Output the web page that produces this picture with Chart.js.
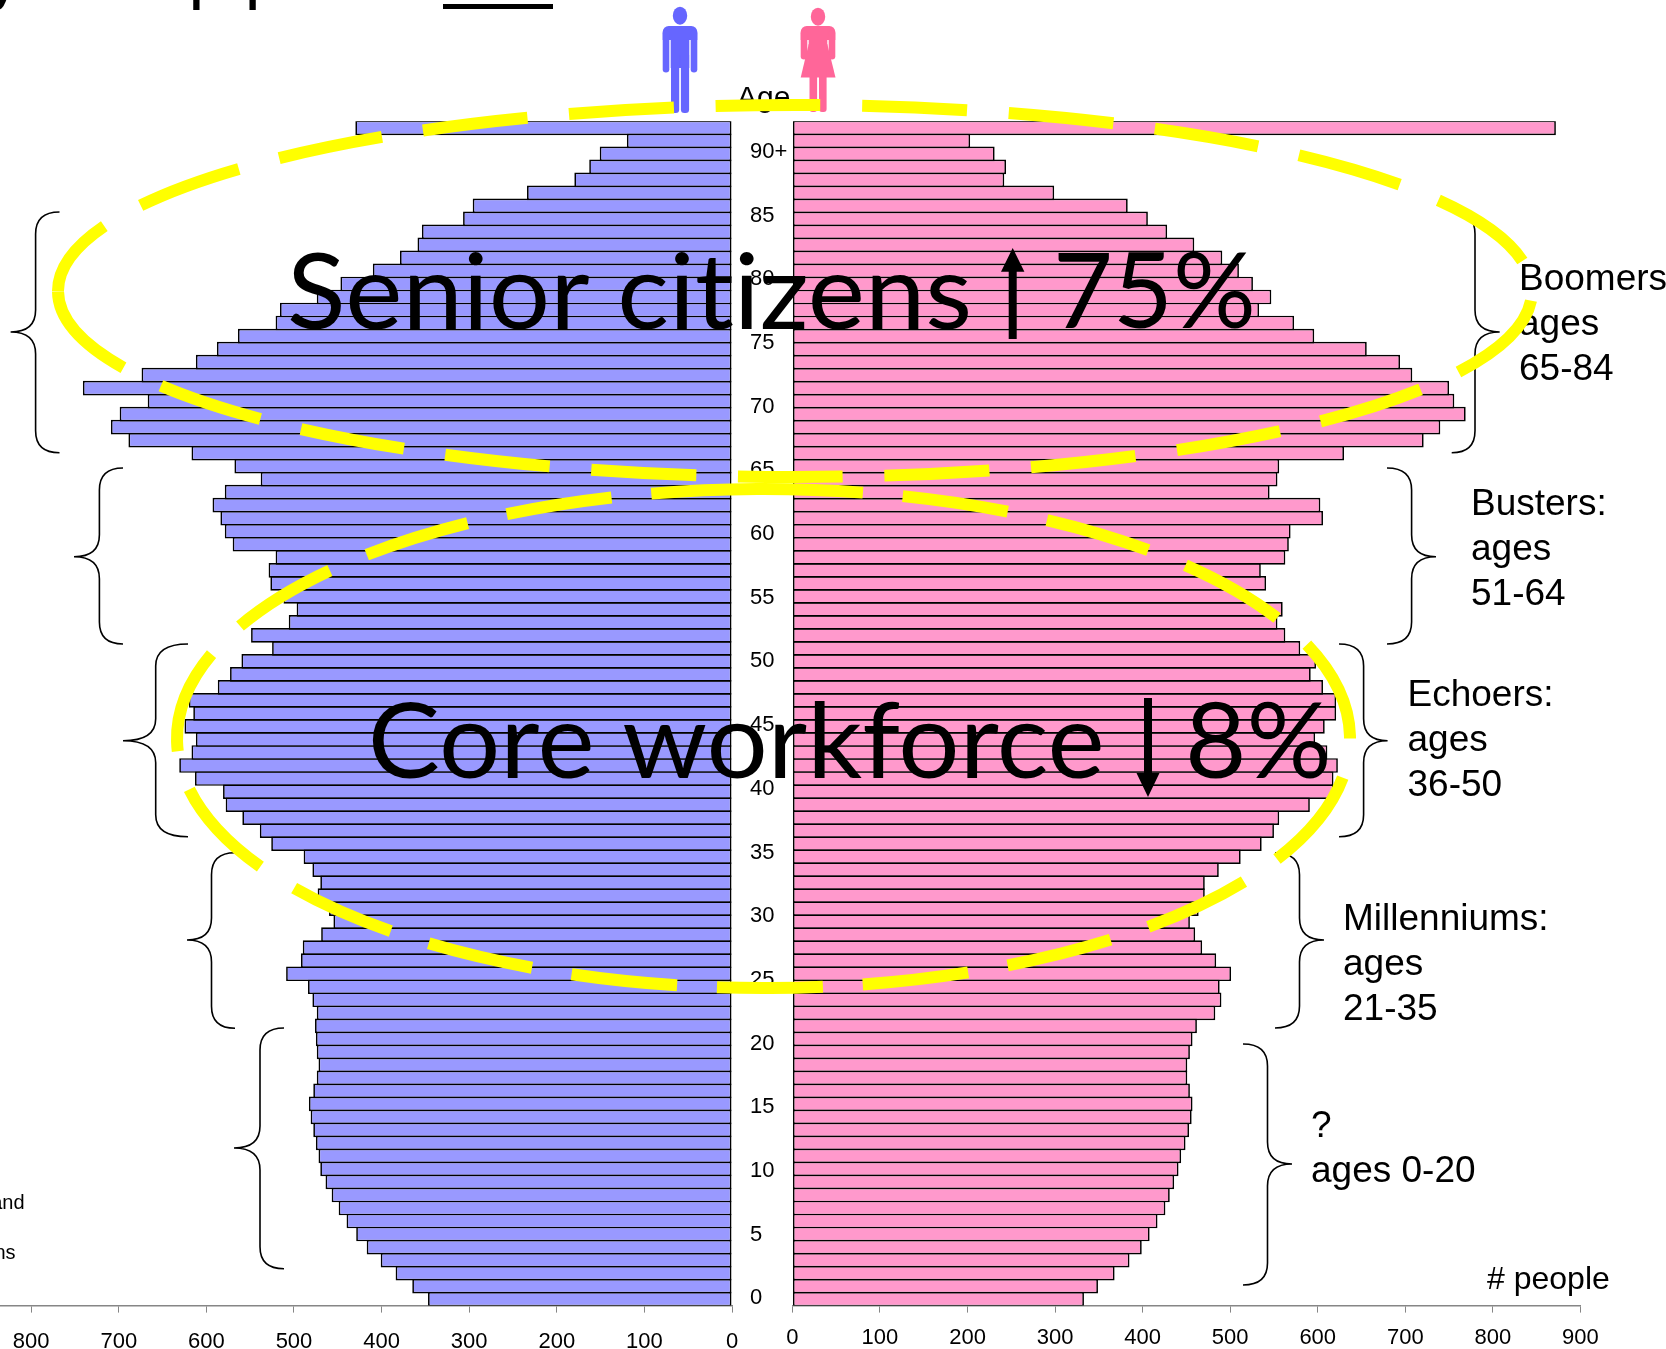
<!DOCTYPE html>
<html><head><meta charset="utf-8">
<style>html,body{margin:0;padding:0;background:#fff;overflow:hidden}canvas{display:block}</style>
<script src="https://cdn.jsdelivr.net/npm/chart.js@4/dist/chart.umd.min.js"></script>
</head><body><canvas id="c" width="1666" height="1349"></canvas>
<script>
// Ages 0 .. 90+ from the bottom bar upward
const ages = [0,1,2,3,4,5,6,7,8,9,10,11,12,13,14,15,16,17,18,19,20,21,22,23,24,25,26,27,28,29,30,31,32,33,34,35,36,37,38,39,40,41,42,43,44,45,46,47,48,49,50,51,52,53,54,55,56,57,58,59,60,61,62,63,64,65,66,67,68,69,70,71,72,73,74,75,76,77,78,79,80,81,82,83,84,85,86,87,88,89,90];
const maleValues = [347,365,384,401,417,429,440,449,457,464,470,472,475,478,481,483,478,474,472,474,475,476,474,479,484,509,492,490,469,455,460,473,470,479,489,526,539,559,578,581,613,631,617,612,625,615,620,587,573,560,525,549,506,497,512,527,529,521,570,579,584,593,579,538,568,617,689,709,699,667,741,674,612,588,564,521,516,474,447,410,379,359,354,307,296,234,180,163,151,120,430];
const femaleValues = [333,349,368,385,399,408,417,426,431,436,441,444,449,453,456,457,454,451,451,454,457,462,483,490,488,501,484,468,460,454,464,471,471,487,512,536,550,556,591,618,618,623,611,597,608,621,621,606,592,598,580,563,554,560,520,541,535,563,567,569,606,603,545,554,556,630,721,740,769,756,750,708,694,656,596,573,533,547,526,510,491,459,428,406,383,299,242,244,231,203,872];
const cohortLabels = [
  {lines:['Boomers:','ages','65-84'], x:1519, y:290},
  {lines:['Busters:','ages','51-64'], x:1471, y:514.5},
  {lines:['Echoers:','ages','36-50'], x:1407.5, y:706},
  {lines:['Millenniums:','ages','21-35'], x:1343, y:930},
  {lines:['?','ages 0-20'], x:1311, y:1137}
];
const braces = [
  [59.5,35.6,10.6,212,332,452.7],[123,99.4,74,468,556.7,644],[188,155.7,123,644,740.7,836.7],
  [235,211.5,187,852.7,940,1028.3],[284,260,234,1028,1148,1268.7],
  [1451.7,1475,1499.7,212,332,452.7],[1387,1411.6,1436,468,556.7,644],[1339,1363.6,1387.6,644,740.7,836.7],
  [1275,1299.5,1324,852.7,940,1028],[1243,1267.5,1292,1044,1164,1285]
];
const FONT = '"Liberation Sans", Arial, sans-serif';
const BLUE='#9999FF', PINK='#FF99CC', AXIS='#868686';

function brace(ctx,b){
  const [ex,sx,tx,top,mid,bot]=b, R=22;
  ctx.beginPath();ctx.moveTo(ex,top);
  ctx.quadraticCurveTo(sx,top,sx,top+R);ctx.lineTo(sx,mid-R);
  ctx.quadraticCurveTo(sx,mid,tx,mid);ctx.quadraticCurveTo(sx,mid,sx,mid+R);
  ctx.lineTo(sx,bot-R);ctx.quadraticCurveTo(sx,bot,ex,bot);ctx.stroke();
}
function rr(ctx,x,y,w,h,r){ctx.beginPath();ctx.roundRect(x,y,w,h,r);ctx.fill();}
function man(ctx){
  ctx.fillStyle='#6666FF';
  ctx.beginPath();ctx.ellipse(680,15.7,7.2,9,0,0,7);ctx.fill();
  rr(ctx,662.7,26,34.6,14,[6,6,0,0]);
  rr(ctx,662.7,30,6.6,42.5,3.3);rr(ctx,690.7,30,6.6,42.5,3.3);
  ctx.fillRect(670.7,26,18.6,42);
  rr(ctx,671,55,8.2,58,[0,0,3.5,3.5]);rr(ctx,680.9,55,8.2,58,[0,0,3.5,3.5]);
}
function woman(ctx){
  ctx.fillStyle='#FF6699';
  ctx.beginPath();ctx.ellipse(818,16.7,7.2,9,0,0,7);ctx.fill();
  rr(ctx,800.7,26,34.6,14,[6,6,0,0]);
  rr(ctx,800.7,30,6.6,29.5,3.3);rr(ctx,828.7,30,6.6,29.5,3.3);
  ctx.fillRect(808.7,26,18.6,20);
  ctx.beginPath();ctx.moveTo(808.7,44);ctx.lineTo(827.3,44);ctx.lineTo(835.5,77.5);ctx.lineTo(800.7,77.5);ctx.closePath();ctx.fill();
  rr(ctx,809.5,70,7.6,42,[0,0,3,3]);rr(ctx,819,70,7.6,42,[0,0,3,3]);
}
function ellipseDash(ctx,cx,cy,rx,ry,a0,dash,gap,offset){
  ctx.save();ctx.strokeStyle='#FFFF00';ctx.lineWidth=12;ctx.setLineDash([dash,gap]);ctx.lineDashOffset=offset;
  ctx.beginPath();ctx.ellipse(cx,cy,rx,ry,0,a0,a0+Math.PI*2);ctx.stroke();ctx.restore();
}
function fitText(ctx,text,left,right,base,size){
  ctx.save();ctx.font=size+'px Lato, "Open Sans", sans-serif';ctx.letterSpacing='0.01px';ctx.textAlign='left';ctx.textBaseline='alphabetic';
  const m=ctx.measureText(text), w=m.actualBoundingBoxLeft+m.actualBoundingBoxRight, k=(right-left)/w;
  ctx.translate(left,base);ctx.scale(k,1);ctx.fillStyle='#000';ctx.fillText(text,m.actualBoundingBoxLeft,0);ctx.restore();
}
function arrow(ctx,x,tip,headBase,tail,dirHalf,stem){
  ctx.fillStyle='#000';ctx.beginPath();
  ctx.moveTo(x,tip);ctx.lineTo(x+dirHalf,headBase);ctx.lineTo(x+stem/2,headBase);ctx.lineTo(x+stem/2,tail);
  ctx.lineTo(x-stem/2,tail);ctx.lineTo(x-stem/2,headBase);ctx.lineTo(x-dirHalf,headBase);ctx.closePath();ctx.fill();
}
const overlay={id:'overlay',afterDraw(chart){
  const ctx=chart.ctx;ctx.save();
  // page title, cropped by the top edge
  ctx.fillStyle='#000';ctx.textBaseline='alphabetic';ctx.textAlign='left';
  ctx.font='bold 46px '+FONT;ctx.fillText('y',-10,0);ctx.fillText('population',190,0);
  ctx.fillRect(443,4,110,5);
  // small side note remains
  ctx.font='20px '+FONT;ctx.textAlign='right';ctx.fillText('and',24.5,1209);ctx.fillText('ns',15.5,1259);ctx.textAlign='left';
  // figures
  man(ctx);woman(ctx);
  ctx.fillStyle='#000';ctx.font='30px '+FONT;ctx.fillText('Age',737,107);
  // braces
  ctx.strokeStyle='#000';ctx.lineWidth=1.6;braces.forEach(b=>brace(ctx,b));
  // labels
  ctx.font='37px '+FONT;ctx.fillStyle='#000';
  cohortLabels.forEach(l=>l.lines.forEach((t,i)=>ctx.fillText(t,l.x,l.y+i*45)));
  ctx.font='32px '+FONT;ctx.fillText('# people',1487,1289);
  // dashed yellow ellipses
  ellipseDash(ctx,795,291,737,186,Math.PI,105,41.7,22);
  ellipseDash(ctx,763.5,738.5,586.5,249.5,-Math.PI/2-Math.asin((763.5-757)/586.5),106,40,0);
  // big text
  fitText(ctx,'Senior citizens',290,968,329,104);
  fitText(ctx,'75%',1058,1251.5,328,104);
  fitText(ctx,'Core workforce',372,1100.5,778,104);
  fitText(ctx,'8%',1190,1327,778,104);
  arrow(ctx,1012.7,248,271.7,339,11.7,8);
  arrow(ctx,1148,797,773,698,11.5,8);
  ctx.restore();
}};
function fixBox(s){s.height=43.4;s.paddingLeft=0;s.paddingRight=0;s.paddingTop=0;s.paddingBottom=0;}
const xCommon={type:'linear',position:'bottom',stack:'row',
  grid:{display:true,drawOnChartArea:false,drawTicks:true,tickLength:7,tickColor:AXIS,color:AXIS,lineWidth:1,offset:false},
  border:{display:true,color:AXIS,width:1.4},
  afterFit:fixBox};
const tickFont={family:FONT,size:22};
const W=1580.4;
const barStyle={borderColor:'#000',borderWidth:1.7,borderSkipped:false,grouped:false,categoryPercentage:1,barPercentage:1.13};
new Chart(document.getElementById('c'),{
  type:'bar',
  data:{labels:ages,datasets:[
    {label:'Male',data:maleValues,xAxisID:'xL',yAxisID:'y',backgroundColor:BLUE,...barStyle},
    {label:'Female',data:femaleValues,xAxisID:'xR',yAxisID:'y',backgroundColor:PINK,...barStyle}
  ]},
  options:{
    indexAxis:'y',responsive:false,animation:false,events:[],
    layout:{padding:{left:0,right:85.6,top:121.3,bottom:0}},
    plugins:{legend:{display:false},title:{display:false},tooltip:{enabled:false}},
    scales:{
      y:{type:'category',display:false,reverse:true,offset:true},
      yAge:{type:'linear',axis:'y',position:'left',min:-0.57,max:92.39,offset:false,
        grid:{display:false,offset:false},border:{display:false},
        afterFit(s){s.width=0;s.paddingTop=0;s.paddingBottom=0;s.paddingLeft=0;s.paddingRight=0;},
        ticks:{mirror:true,padding:750,stepSize:5,includeBounds:false,autoSkip:false,color:'#000',font:tickFont,
          callback:v=>v===90?'90+':String(v)}},
      xL:{...xCommon,reverse:true,min:0,max:835.6,stackWeight:3*732/W,weight:1,
        ticks:{stepSize:100,includeBounds:false,autoSkip:false,maxRotation:0,color:'#000',font:tickFont,padding:16}},
      xGap:{type:'linear',axis:'x',position:'bottom',stack:'row',min:0,max:1,stackWeight:3*60.4/W,weight:2,
        grid:{display:false},border:{display:false},ticks:{display:false},afterFit:fixBox},
      xR:{...xCommon,min:0,max:900,stackWeight:3*788/W,weight:3,
        ticks:{stepSize:100,includeBounds:false,autoSkip:false,maxRotation:0,color:'#000',font:tickFont,padding:12}}
    }
  },
  plugins:[overlay]
});
</script></body></html>
